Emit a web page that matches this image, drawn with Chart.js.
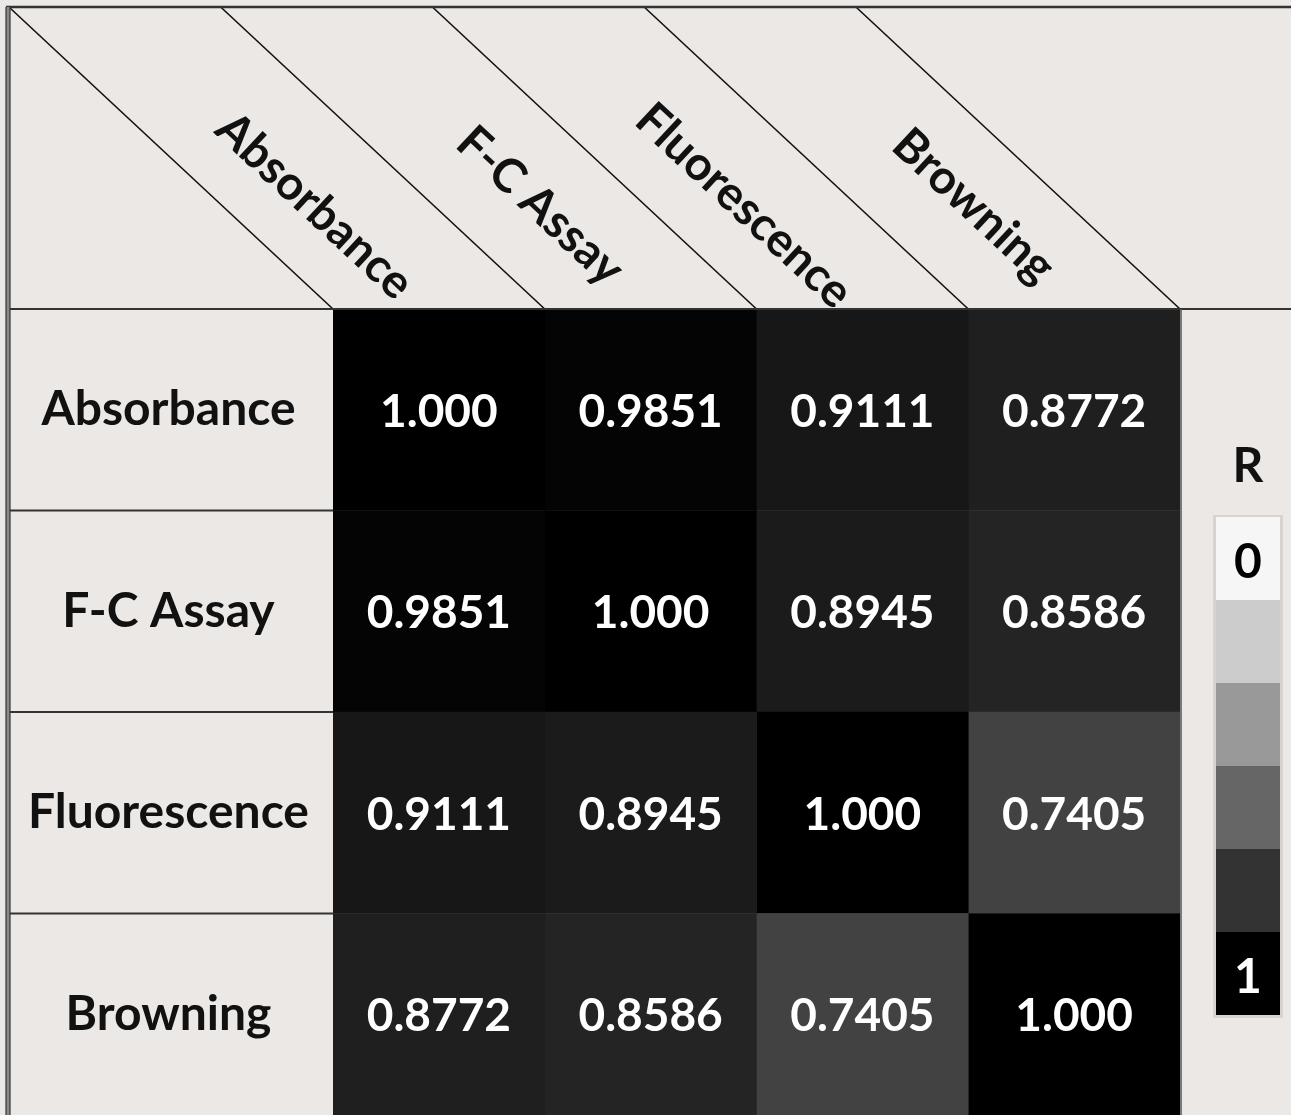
<!DOCTYPE html>
<html>
<head>
<meta charset="utf-8">
<title>Correlation matrix</title>
<script src="https://cdn.jsdelivr.net/npm/chart.js@4.4.1/dist/chart.umd.min.js"></script>
<style>
  html, body { margin: 0; padding: 0; background: #ebe8e5; }
  canvas { display: block; }
</style>
</head>
<body>
<canvas id="corrChart" width="1291" height="1115"></canvas>
<script>
/* ---------- data ---------- */
const rowLabels = ["Absorbance", "F-C Assay", "Fluorescence", "Browning"];
const colLabels = ["Absorbance", "F-C Assay", "Fluorescence", "Browning"];

const absorbanceR   = [1.000, 0.9851, 0.9111, 0.8772];
const fcAssayR      = [0.9851, 1.000, 0.8945, 0.8586];
const fluorescenceR = [0.9111, 0.8945, 1.000, 0.7405];
const browningR     = [0.8772, 0.8586, 0.7405, 1.000];

const legendSteps  = [0, 0.2, 0.4, 0.6, 0.8, 1];
const legendLabels = ["0", "", "", "", "", "1"];
const legendTitle  = "R";

const matrix = [absorbanceR, fcAssayR, fluorescenceR, browningR];

/* ---------- helpers ---------- */
const FONT = "Lato, 'Open Sans', sans-serif";
const BG = "#ebe8e5";

function grayFor(r) {
  const g = Math.round((1 - r) * 255);
  return `rgb(${g},${g},${g})`;
}

function fmt(r) {
  return r === 1 ? r.toFixed(3) : r.toFixed(4);
}

/* one dataset per column: floating bars spanning [j, j+1] on the x scale */
const datasets = colLabels.map((name, j) => ({
  label: name,
  data: rowLabels.map(() => [j, j + 1]),
  values: rowLabels.map((_, i) => matrix[i][j]),
  backgroundColor: rowLabels.map((_, i) => grayFor(matrix[i][j])),
  borderWidth: 0,
  grouped: false,
  categoryPercentage: 1,
  barPercentage: 1
}));

/* ---------- table decorations ---------- */
const tableDecor = {
  id: "tableDecor",

  beforeDraw(chart) {
    const { ctx, width, height } = chart;
    ctx.save();
    ctx.fillStyle = BG;
    ctx.fillRect(0, 0, width, height);
    ctx.restore();
  },

  afterDatasetsDraw(chart) {
    const { ctx, chartArea, scales } = chart;
    const xs = scales.x, ys = scales.y;
    const top = chartArea.top;
    const frameTop = 7;
    const frameLeft = 10;

    ctx.save();

    /* values inside cells */
    ctx.font = `bold 46px ${FONT}`;
    ctx.fillStyle = "#ffffff";
    ctx.textAlign = "center";
    ctx.textBaseline = "middle";
    chart.data.datasets.forEach((ds, j) => {
      const meta = chart.getDatasetMeta(j);
      meta.data.forEach((bar, i) => {
        const cx = (bar.x + bar.base) / 2;
        ctx.fillText(fmt(ds.values[i]), cx, bar.y + 2);
      });
    });

    /* header: diagonal lines */
    const dy = top - frameTop;
    const slope = 323 / 301;
    ctx.strokeStyle = "#111";
    ctx.lineWidth = 1.6;
    for (let j = 0; j <= colLabels.length; j++) {
      const bx = xs.getPixelForValue(j);
      ctx.beginPath();
      ctx.moveTo(bx - dy * slope, frameTop);
      ctx.lineTo(bx, top);
      ctx.stroke();
    }

    /* header: rotated column labels */
    const angle = Math.atan2(1, slope);
    const shifts = [-14, 0, -8, 10];
    ctx.font = `bold 47px ${FONT}`;
    ctx.fillStyle = "#111";
    colLabels.forEach((name, j) => {
      const midBottom = (xs.getPixelForValue(j) + xs.getPixelForValue(j + 1)) / 2;
      const cy = 206;
      const cx = midBottom - (top - cy) * slope + shifts[j];
      ctx.save();
      ctx.translate(cx, cy);
      ctx.rotate(angle);
      ctx.textAlign = "center";
      ctx.textBaseline = "middle";
      ctx.fillText(name, 0, 0);
      ctx.restore();
    });

    /* frame + grid lines */
    ctx.strokeStyle = "#333";
    ctx.lineWidth = 2.5;
    ctx.beginPath();
    ctx.moveTo(6, frameTop);
    ctx.lineTo(chart.width, frameTop);
    ctx.stroke();

    ctx.lineWidth = 2;
    ctx.beginPath();
    ctx.moveTo(frameLeft, top);
    ctx.lineTo(chart.width, top);
    ctx.stroke();

    rowLabels.forEach((_, i) => {
      if (i === 0) return;
      const y = (ys.getPixelForValue(i - 1) + ys.getPixelForValue(i)) / 2;
      ctx.beginPath();
      ctx.moveTo(frameLeft, y);
      ctx.lineTo(chartArea.left, y);
      ctx.stroke();
    });

    /* double left border */
    ctx.fillStyle = "#8a8a8a";
    ctx.fillRect(6, frameTop, 4, chart.height - frameTop);
    ctx.strokeStyle = "#333";
    ctx.lineWidth = 1.2;
    [6, 10].forEach(x => {
      ctx.beginPath();
      ctx.moveTo(x, frameTop);
      ctx.lineTo(x, chart.height);
      ctx.stroke();
    });

    /* right edge of the matrix */
    ctx.strokeStyle = "#555";
    ctx.lineWidth = 1.5;
    ctx.beginPath();
    ctx.moveTo(chartArea.right + 1, top);
    ctx.lineTo(chartArea.right + 1, chart.height);
    ctx.stroke();

    /* colour key */
    const keyLeft = 1216, keyW = 64, keyTop = 517, segH = 83;
    ctx.fillStyle = "#d6d3d0";
    ctx.fillRect(keyLeft - 3, keyTop - 2, keyW + 6, segH * legendSteps.length + 5);
    legendSteps.forEach((r, k) => {
      ctx.fillStyle = r === 0 ? "#f6f6f6" : grayFor(r);
      ctx.fillRect(keyLeft, keyTop + k * segH, keyW, segH);
      if (legendLabels[k]) {
        ctx.fillStyle = r > 0.5 ? "#ffffff" : "#000000";
        ctx.font = `bold 48px ${FONT}`;
        ctx.textAlign = "center";
        ctx.textBaseline = "middle";
        ctx.fillText(legendLabels[k], keyLeft + keyW / 2, keyTop + k * segH + segH / 2 + 4);
      }
    });
    ctx.fillStyle = "#111";
    ctx.font = `bold 48px ${FONT}`;
    ctx.textAlign = "center";
    ctx.textBaseline = "middle";
    ctx.fillText(legendTitle, keyLeft + keyW / 2, 467);

    ctx.restore();
  }
};

/* ---------- chart ---------- */
function drawChart() {
  new Chart(document.getElementById("corrChart"), {
    type: "bar",
    data: { labels: rowLabels, datasets: datasets },
    options: {
      indexAxis: "y",
      responsive: false,
      animation: false,
      layout: { padding: { left: 10, top: 309, right: 111, bottom: 0 } },
      plugins: {
        legend: { display: false },
        tooltip: { enabled: false }
      },
      scales: {
        x: { type: "linear", min: 0, max: 4, display: false },
        y: {
          type: "category",
          grid: { display: false, drawTicks: false },
          border: { display: false },
          ticks: {
            color: "#111",
            crossAlign: "center",
            padding: 24,
            font: { family: FONT, weight: "bold", size: 48 }
          },
          afterFit(scale) {
            scale.width = 323;
            // labels sit inside the table, no extra room above/below
            scale.paddingTop = 0;
            scale.paddingBottom = 0;
          }
        }
      }
    },
    plugins: [tableDecor]
  });
}

document.fonts.load(`bold 46px Lato`).then(drawChart, drawChart);
</script>
</body>
</html>
